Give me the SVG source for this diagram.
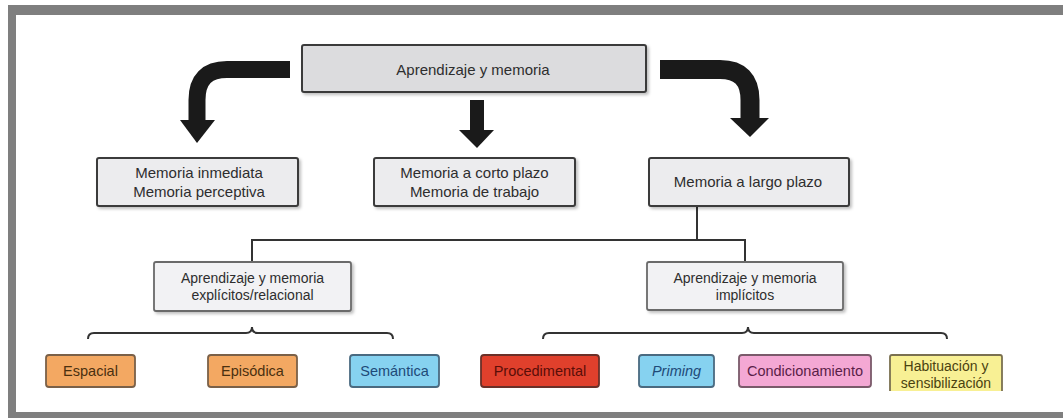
<svg xmlns="http://www.w3.org/2000/svg" width="1063" height="418" viewBox="0 0 1063 418">
<defs>
<filter id="sh" x="-10%" y="-20%" width="130%" height="150%">
<feDropShadow dx="2" dy="2" stdDeviation="1.5" flood-color="#000" flood-opacity="0.25"/>
</filter>
<clipPath id="habclip"><rect x="880" y="350" width="130" height="40"/></clipPath>
</defs>
<style>
text{font-family:"Liberation Sans",Arial,sans-serif;fill:#2e2e2e;text-anchor:middle;font-size:15px}
.g1{fill:#dcdcde;stroke:#3a3a3a;stroke-width:2}
.g2{fill:#ececee;stroke:#3a3a3a;stroke-width:2}
.g3{fill:#f2f2f4;stroke:#6a6a6a;stroke-width:1.8}
.t3{font-size:14px}
.leaf{stroke-width:1.8}
.arr{fill:none;stroke:#1a1a1a}
.head{fill:#1a1a1a}
.conn{fill:none;stroke:#333;stroke-width:2}
.sm{font-size:14.5px}
</style>
<rect width="1063" height="418" fill="#fff"/>
<g id="frame" fill="#7f7f7f">
<rect x="8" y="5" width="1055" height="10"/>
<rect x="8" y="5" width="8" height="413"/>
<rect x="8" y="412" width="1055" height="6"/>
</g>
<g id="connectors">
<path class="arr" stroke-width="17" d="M290 69.5 H227 Q197 69.5 197 100 V121"/>
<polygon class="head" points="180,120 215,120 197,143"/>
<path class="arr" stroke-width="14" d="M477 100 V131"/>
<polygon class="head" points="459,130 494,130 477,148"/>
<path class="arr" stroke-width="19" d="M660 69.5 H720 Q750 69.5 750 100 V119"/>
<polygon class="head" points="730,118 769,118 750,137"/>
<path class="conn" d="M697 206 V240 M252 263 V240 H745 V263"/>
<path class="conn" d="M88 339 Q88 333 94 333 H246 Q252 333 252 327 Q252 333 258 333 H387 Q393 333 393 339"/>
<path class="conn" d="M543 339 Q543 333 549 333 H742 Q748 333 748 327 Q748 333 754 333 H941 Q947 333 947 339"/>
</g>
<g id="n-top">
<rect class="g1" x="302" y="45" width="344" height="47" rx="2" filter="url(#sh)"/>
<text x="473" y="75">Aprendizaje y memoria</text>
</g>
<g id="n-inmediata">
<rect class="g2" x="97" y="158" width="201" height="48" rx="2" filter="url(#sh)"/>
<text x="199" y="178">Memoria inmediata</text>
<text x="199" y="197">Memoria perceptiva</text>
</g>
<g id="n-corto">
<rect class="g2" x="374" y="158" width="201" height="48" rx="2" filter="url(#sh)"/>
<text x="474.5" y="178">Memoria a corto plazo</text>
<text x="474.5" y="197">Memoria de trabajo</text>
</g>
<g id="n-largo">
<rect class="g2" x="649" y="158" width="200" height="48" rx="2" filter="url(#sh)"/>
<text x="748" y="187">Memoria a largo plazo</text>
</g>
<g id="n-explicitos">
<rect class="g3" x="154" y="262" width="197" height="49" rx="2" filter="url(#sh)"/>
<text class="t3" x="252.5" y="283">Aprendizaje y memoria</text>
<text class="t3" x="252.5" y="300">explícitos/relacional</text>
</g>
<g id="n-implicitos">
<rect class="g3" x="647" y="262" width="196" height="48" rx="2" filter="url(#sh)"/>
<text class="t3" x="745" y="283">Aprendizaje y memoria</text>
<text class="t3" x="745" y="300">implícitos</text>
</g>
<g id="n-espacial">
<rect class="leaf" x="46" y="355" width="89" height="32" rx="3" fill="#f3a862" stroke="#7a6048"/>
<text class="sm" x="90.5" y="376" style="fill:#4a3010">Espacial</text>
</g>
<g id="n-episodica">
<rect class="leaf" x="208" y="355" width="89" height="32" rx="3" fill="#f3a862" stroke="#7a6048"/>
<text class="sm" x="252.5" y="376" style="fill:#4a3010">Episódica</text>
</g>
<g id="n-semantica">
<rect class="leaf" x="350" y="355" width="89" height="32" rx="3" fill="#86d2f0" stroke="#4a6a80"/>
<text class="sm" x="394.5" y="376" style="fill:#1e4a78">Semántica</text>
</g>
<g id="n-procedimental">
<rect class="leaf" x="481" y="355" width="118" height="32" rx="3" fill="#e0402c" stroke="#6a3028"/>
<text class="sm" x="540" y="376" style="fill:#5a0e08">Procedimental</text>
</g>
<g id="n-priming">
<rect class="leaf" x="639" y="355" width="75" height="32" rx="3" fill="#86d2f0" stroke="#4a6a80"/>
<text class="sm" x="676.5" y="376" style="fill:#1e4a78;font-style:italic">Priming</text>
</g>
<g id="n-condicionamiento">
<rect class="leaf" x="739" y="355" width="132" height="32" rx="3" fill="#f4a8d4" stroke="#7a5a6a"/>
<text class="sm" x="805" y="376" style="fill:#5a1e48">Condicionamiento</text>
</g>
<g id="n-habituacion">
<path d="M890 391 V357 Q890 355 892 355 H1000 Q1002 355 1002 357 V391" fill="#f8f094" stroke="#7a7050" stroke-width="1.8"/>
<g clip-path="url(#habclip)">
<text x="946" y="371" style="fill:#4a4210;font-size:14px">Habituación y</text>
<text x="946" y="388" style="fill:#4a4210;font-size:14px">sensibilización</text>
</g>
</g>
</svg>
